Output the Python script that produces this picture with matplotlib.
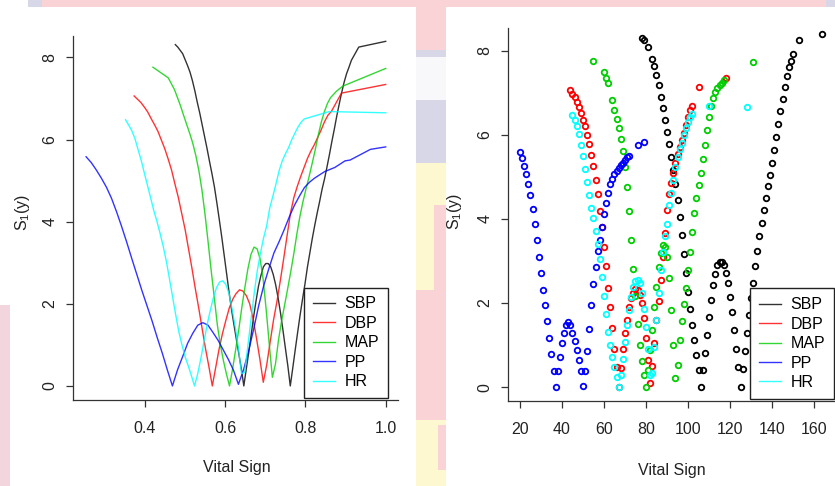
import numpy as np
import matplotlib
matplotlib.use('Agg')
import matplotlib.pyplot as plt
from matplotlib.patches import Rectangle
from matplotlib.lines import Line2D

plt.rcParams['font.family'] = ['Liberation Sans', 'DejaVu Sans']

names = ['SBP', 'DBP', 'MAP', 'PP', 'HR']
colors = ['black', 'red', '#00cd00', 'blue', 'cyan']

# raw vital sign readings and the S1(y) statistic for each
sbp_x = [78, 79, 81, 83, 84, 85, 86, 87, 88, 89,
         90, 91, 92, 93, 94, 95, 96, 97, 98, 99,
         100, 101, 102, 103, 104, 105, 106, 107, 108, 109,
         110, 111, 112, 113, 114, 115, 116, 117, 118, 119,
         120, 121, 122, 123, 124, 125, 126, 127, 128, 129,
         130, 131, 132, 133, 134, 135, 136, 137, 138, 139,
         140, 141, 142, 143, 144, 145, 146, 147, 148, 149,
         150, 153, 164]
sbp_s = [8.31, 8.25, 8.09, 7.80, 7.64, 7.43, 7.18, 6.90, 6.64, 6.35,
         6.06, 5.77, 5.46, 5.16, 4.84, 4.45, 4.04, 3.62, 3.17, 2.72,
         2.27, 1.85, 1.48, 1.12, 0.77, 0.41, 0.00, 0.41, 0.81, 1.24,
         1.68, 2.07, 2.43, 2.69, 2.90, 2.98, 2.98, 2.90, 2.72, 2.47,
         2.15, 1.78, 1.36, 0.92, 0.49, 0.00, 0.43, 0.87, 1.30, 1.72,
         2.11, 2.48, 2.89, 3.24, 3.59, 3.91, 4.21, 4.49, 4.79, 5.04,
         5.33, 5.63, 5.95, 6.25, 6.57, 6.86, 7.14, 7.39, 7.60, 7.76,
         7.93, 8.25, 8.39]

dbp_x = [44, 45, 46, 47, 48, 49, 50, 51, 52, 53,
         54, 55, 56, 57, 58, 59, 60, 61, 62, 63,
         64, 65, 66, 67, 68, 69, 70, 71, 72, 73,
         74, 75, 76, 77, 78, 79, 80, 81, 82, 83,
         84, 85, 86, 87, 88, 89, 90, 91, 92, 93,
         94, 95, 96, 97, 98, 99, 100, 101, 102, 105,
         118]
dbp_s = [7.06, 6.98, 6.90, 6.79, 6.67, 6.51, 6.36, 6.20, 5.99, 5.78,
         5.53, 5.26, 4.92, 4.59, 4.20, 3.81, 3.34, 2.87, 2.37, 1.90,
         1.40, 0.91, 0.47, 0.00, 0.45, 0.90, 1.28, 1.60, 1.90, 2.11,
         2.25, 2.34, 2.31, 2.20, 2.00, 1.64, 1.16, 0.65, 0.09, 0.51,
         1.06, 1.60, 2.05, 2.56, 3.10, 3.66, 4.21, 4.59, 4.86, 5.10,
         5.32, 5.54, 5.72, 5.87, 6.05, 6.23, 6.43, 6.59, 6.68, 7.13,
         7.34]

map_x = [55, 60, 61, 62, 64, 65, 66, 67, 68, 69,
         70, 71, 72, 73, 74, 75, 76, 77, 78, 79,
         80, 81, 82, 83, 84, 85, 86, 87, 88, 89,
         90, 91, 92, 93, 94, 95, 96, 97, 98, 99,
         100, 101, 102, 103, 104, 105, 106, 107, 108, 109,
         110, 111, 112, 113, 114, 115, 116, 117, 131]
map_s = [7.76, 7.50, 7.36, 7.22, 6.82, 6.59, 6.37, 6.15, 5.91, 5.61,
         5.24, 4.77, 4.18, 3.51, 2.82, 2.17, 1.50, 1.00, 0.62, 0.29,
         0.00, 0.41, 0.88, 1.36, 1.90, 2.39, 2.85, 3.20, 3.38, 3.34,
         3.09, 2.59, 1.84, 1.00, 0.21, 0.53, 1.12, 1.58, 1.97, 2.37,
         2.78, 3.22, 3.70, 4.13, 4.49, 4.80, 5.10, 5.42, 5.75, 6.11,
         6.43, 6.68, 6.88, 7.02, 7.10, 7.18, 7.24, 7.30, 7.73]

pp_x = [20, 21, 22, 23, 24, 25, 26, 27, 28, 29,
        30, 31, 32, 33, 34, 35, 36, 37, 38, 39,
        40, 41, 42, 43, 44, 45, 46, 47, 48, 49,
        50, 51, 52, 53, 54, 55, 56, 57, 58, 59,
        60, 61, 62, 63, 64, 65, 66, 67, 68, 69,
        70, 71, 72, 76, 79]
pp_s = [5.58, 5.44, 5.26, 5.06, 4.84, 4.57, 4.24, 3.88, 3.50, 3.10,
        2.71, 2.32, 1.95, 1.58, 1.18, 0.80, 0.39, 0.00, 0.39, 0.71,
        1.04, 1.28, 1.48, 1.54, 1.48, 1.30, 1.11, 0.88, 0.65, 0.39,
        0.04, 0.39, 0.85, 1.38, 1.96, 2.45, 2.86, 3.24, 3.51, 3.80,
        4.11, 4.39, 4.62, 4.83, 4.96, 5.06, 5.14, 5.22, 5.27, 5.32,
        5.40, 5.48, 5.50, 5.76, 5.82]

hr_x = [45, 46, 47, 48, 49, 50, 51, 52, 53, 54,
        55, 56, 57, 58, 59, 60, 61, 62, 63, 64,
        65, 66, 67, 68, 69, 70, 71, 72, 73, 74,
        75, 76, 77, 78, 79, 80, 81, 82, 83, 84,
        85, 86, 87, 88, 89, 90, 91, 92, 93, 94,
        95, 96, 97, 98, 99, 100, 101, 102, 110, 128]
hr_s = [6.48, 6.35, 6.21, 6.02, 5.75, 5.49, 5.18, 4.88, 4.58, 4.27,
        4.01, 3.72, 3.40, 3.04, 2.61, 2.17, 1.73, 1.32, 1.00, 0.71,
        0.49, 0.25, 0.00, 0.29, 0.66, 1.07, 1.48, 1.83, 2.14, 2.39,
        2.53, 2.56, 2.47, 2.25, 1.87, 1.44, 0.92, 0.30, 0.33, 0.96,
        1.60, 2.23, 2.79, 3.22, 3.59, 3.89, 4.33, 4.62, 4.92, 5.24,
        5.48, 5.65, 5.80, 5.99, 6.15, 6.30, 6.42, 6.50, 6.68, 6.65]

series_x = [sbp_x, dbp_x, map_x, pp_x, hr_x]
series_s = [sbp_s, dbp_s, map_s, pp_s, hr_s]

W, H = 835, 486
fig = plt.figure(figsize=(W / 100, H / 100), dpi=100)
fig.patch.set_facecolor('white')

pink = '#fad3d6'
lav = '#d7d7e7'
yel = '#fdf8cf'


def band(x0, y0, x1, y1, color):
    # rectangle given in pixels from the top-left corner
    fig.add_artist(Rectangle((x0 / W, 1 - y1 / H), (x1 - x0) / W, (y1 - y0) / H,
                             transform=fig.transFigure, facecolor=color,
                             lw=0, zorder=0))


# slide background showing around the two plots
band(40, 0, 835, 7, pink)
band(28, 0, 42, 7, lav)
band(826, 0, 835, 7, lav)
band(416, 7, 446, 50, pink)
band(416, 50, 446, 57, lav)
band(416, 57, 446, 100, '#f8f8fb')
band(416, 100, 446, 163, lav)
band(416, 163, 446, 290, yel)
band(434, 205, 446, 290, pink)
band(416, 290, 446, 420, pink)
band(416, 420, 446, 486, yel)
band(438, 425, 446, 470, pink)
band(0, 305, 10, 486, '#f3d6dd')

axL = fig.add_axes([72.8 / W, (H - 399.5) / H, 324.9 / W, 363.5 / H])
axR = fig.add_axes([507.8 / W, (H - 400.7) / H, 328.9 / W, 372.4 / H])

for x, s, c in zip(series_x, series_s, colors):
    x = np.array(x, dtype=float)
    axL.plot(x / x.max(), s, color=c, lw=1.0, alpha=0.8)
    axR.plot(x, s, 'o', mfc='none', mec=c, ms=4.0, mew=1.3, clip_on=False)

axL.set_xlim(0.22, 1.03)
axL.set_ylim(-0.33, 8.52)
axL.set_xticks([0.4, 0.6, 0.8, 1.0])
axL.set_xticklabels(['0.4', '0.6', '0.8', '1.0'])

axR.set_xlim(14.2, 170.8)
axR.set_ylim(-0.32, 8.53)
axR.set_xticks([20, 40, 60, 80, 100, 120, 140, 160])

fs = 11.5
for ax in (axL, axR):
    ax.set_facecolor('none')
    for side in ('top', 'right'):
        ax.spines[side].set_visible(False)
    for side in ('left', 'bottom'):
        ax.spines[side].set_color('#333333')
        ax.spines[side].set_linewidth(0.9)
    ax.set_yticks([0, 2, 4, 6, 8])
    ax.set_yticklabels(['0', '2', '4', '6', '8'], rotation=90, va='center')
    ax.tick_params(axis='both', length=5, width=0.9, color='#333333',
                   labelcolor='#222222', labelsize=fs)
    ax.tick_params(axis='x', pad=10.5)
    ax.tick_params(axis='y', pad=6)

    handles = [Line2D([], [], color=c, lw=1.0, alpha=0.8) for c in colors]
    leg = ax.legend(handles, names, loc='lower right', fontsize=fs,
                    frameon=True, fancybox=False, edgecolor='#222222',
                    framealpha=1, handlelength=1.4, handletextpad=0.6,
                    labelspacing=0.28, borderpad=0.55, borderaxespad=0)
    leg.get_frame().set_linewidth(1.0)

axL.get_legend().set_bbox_to_anchor((0.97, 0.004))
axR.get_legend().set_bbox_to_anchor((0.992, 0.005))

ylab = r'$\mathregular{S_1(y)}$'
fig.text(22 / W, 1 - 212 / H, ylab, rotation=90, ha='center', va='center',
         fontsize=fs, color='#222222')
fig.text(455 / W, 1 - 211 / H, ylab, rotation=90, ha='center', va='center',
         fontsize=fs, color='#222222')
fig.text(237 / W, 1 - 467 / H, 'Vital Sign', ha='center', va='center',
         fontsize=fs, color='#222222')
fig.text(672 / W, 1 - 470 / H, 'Vital Sign', ha='center', va='center',
         fontsize=fs, color='#222222')

fig.savefig('out.png', dpi=100)
